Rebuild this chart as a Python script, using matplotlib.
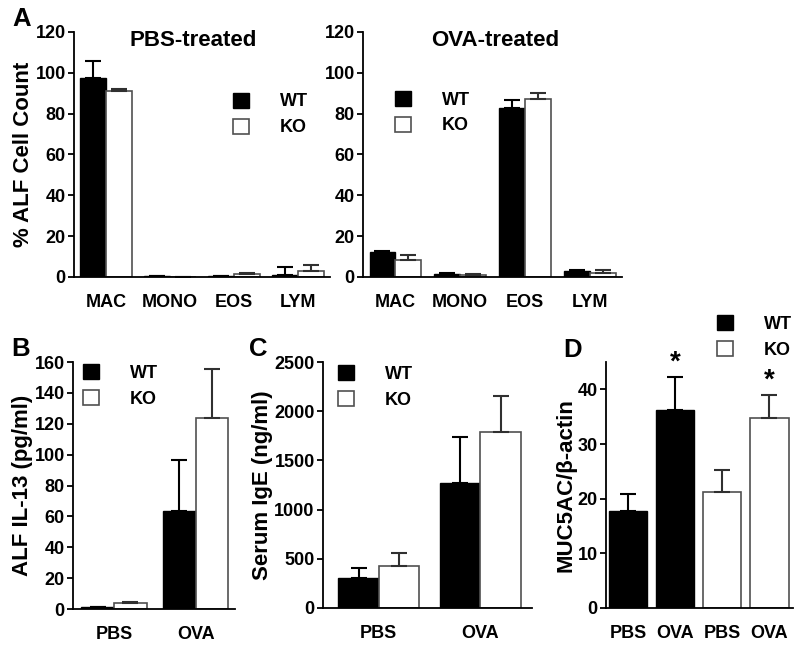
import numpy as np
import matplotlib
matplotlib.use("Agg")
import matplotlib.pyplot as plt
from matplotlib.patches import Patch

plt.rcParams['font.family'] = ['Liberation Sans', 'DejaVu Sans']
plt.rcParams['font.weight'] = 'bold'
plt.rcParams['axes.labelweight'] = 'bold'

# panel A: % ALF cell count
cells = ['MAC', 'MONO', 'EOS', 'LYM']
pbs_wt = [97.4, 0.3, 0.3, 0.8]
pbs_wt_err = [8.5, 0.0, 0.0, 4.1]
pbs_ko = [91.3, 0.0, 1.3, 2.9]
pbs_ko_err = [0.9, 0.0, 0.8, 2.8]
ova_wt = [12.2, 1.6, 82.7, 3.1]
ova_wt_err = [0.4, 0.3, 4.1, 0.2]
ova_ko = [8.3, 1.1, 87.4, 2.1]
ova_ko_err = [2.5, 0.3, 2.8, 1.2]

# panel B: ALF IL-13
treat = ['PBS', 'OVA']
il13_wt = [1.2, 63.6]
il13_wt_err = [0.2, 33.0]
il13_ko = [3.7, 123.7]
il13_ko_err = [1.1, 31.5]

# panel C: serum IgE
ige_wt = [305, 1270]
ige_wt_err = [101, 464]
ige_ko = [423, 1785]
ige_ko_err = [139, 366]

# panel D: MUC5AC / beta-actin
muc_labels = ['PBS', 'OVA', 'PBS', 'OVA']
muc_group = ['WT', 'WT', 'KO', 'KO']
muc_vals = [17.7, 36.2, 21.2, 34.8]
muc_err = [3.2, 6.1, 4.0, 4.2]
muc_sig = [False, True, False, True]

KO_EDGE = '#505050'
TICK_FS = 13
LABEL_FS = 16


def style_axes(ax):
    for s in ['top', 'right']:
        ax.spines[s].set_visible(False)
    for s in ['left', 'bottom']:
        ax.spines[s].set_linewidth(1.3)
    ax.tick_params(axis='y', direction='out', length=4, width=1.3,
                   labelsize=TICK_FS, pad=2)
    ax.tick_params(axis='x', length=0, labelsize=TICK_FS, pad=12)


def bars(ax, x, vals, errs, wt, width):
    if wt:
        ax.bar(x, vals, width, color='black', edgecolor='black', linewidth=1)
        ecol = 'black'
    else:
        ax.bar(x, vals, width, color='white', edgecolor=KO_EDGE, linewidth=1.2)
        ecol = '#303030'
    errs = np.asarray(errs)
    ax.errorbar(x, vals, yerr=[np.zeros_like(errs), errs], fmt='none',
                ecolor=ecol, elinewidth=1.5, capsize=6, capthick=1.5)


def add_legend(ax, x, y):
    handles = [Patch(facecolor='black', edgecolor='black'),
               Patch(facecolor='white', edgecolor=KO_EDGE, linewidth=1.2)]
    ax.legend(handles, ['WT', 'KO'], loc='upper left', bbox_to_anchor=(x, y),
              frameon=False, fontsize=TICK_FS, handlelength=0.9,
              handleheight=0.9, handletextpad=1.7, labelspacing=0.45,
              borderpad=0, borderaxespad=0)


def ylabel(ax, text, x):
    ax.set_ylabel(text, fontsize=LABEL_FS)
    ax.yaxis.set_label_coords(x, 0.5)


fig = plt.figure(figsize=(8, 6.49), dpi=100)

# ---- panel A
xa = np.arange(len(cells))
axl = fig.add_axes([0.0925, 0.5732, 0.32, 0.3775])
axr = fig.add_axes([0.4538, 0.5732, 0.3238, 0.3775])
for ax, wt, wte, ko, koe, title, tx in [
        (axl, pbs_wt, pbs_wt_err, pbs_ko, pbs_ko_err, 'PBS-treated', 0.465),
        (axr, ova_wt, ova_wt_err, ova_ko, ova_ko_err, 'OVA-treated', 0.51)]:
    bars(ax, xa - 0.2, wt, wte, True, 0.4)
    bars(ax, xa + 0.2, ko, koe, False, 0.4)
    ax.set_xlim(-0.5, 3.5)
    ax.set_ylim(0, 120)
    ax.set_yticks(range(0, 121, 20))
    ax.set_xticks(xa)
    ax.set_xticklabels(cells)
    style_axes(ax)
    ax.text(tx, 0.965, title, transform=ax.transAxes, ha='center',
            va='center', fontsize=16, fontweight='bold')
ylabel(axl, '% ALF Cell Count', -0.155)
add_legend(axl, 0.62, 0.752)
add_legend(axr, 0.124, 0.76)

# ---- panel B
xb = np.arange(len(treat))
axb = fig.add_axes([0.0913, 0.0616, 0.2025, 0.3806])
bars(axb, xb - 0.2, il13_wt, il13_wt_err, True, 0.4)
bars(axb, xb + 0.2, il13_ko, il13_ko_err, False, 0.4)
axb.set_xlim(-0.5, 1.48)
axb.set_ylim(0, 160)
axb.set_yticks(range(0, 161, 20))
axb.set_xticks(xb)
axb.set_xticklabels(treat)
style_axes(axb)
ylabel(axb, 'ALF IL-13 (pg/ml)', -0.25)
add_legend(axb, 0.062, 0.992)

# ---- panel C
axc = fig.add_axes([0.4038, 0.0632, 0.2613, 0.379])
bars(axc, xb - 0.2, ige_wt, ige_wt_err, True, 0.4)
bars(axc, xb + 0.2, ige_ko, ige_ko_err, False, 0.4)
axc.set_xlim(-0.55, 1.51)
axc.set_ylim(0, 2500)
axc.set_yticks(range(0, 2501, 500))
axc.set_xticks(xb)
axc.set_xticklabels(treat)
style_axes(axc)
ylabel(axc, 'Serum IgE (ng/ml)', -0.24)
add_legend(axc, 0.072, 0.988)

# ---- panel D
xd = np.arange(len(muc_vals))
axd = fig.add_axes([0.7575, 0.0632, 0.2338, 0.379])
for i in xd:
    bars(axd, [i], [muc_vals[i]], [muc_err[i]], muc_group[i] == 'WT', 0.81)
    if muc_sig[i]:
        axd.text(i, muc_vals[i] + muc_err[i] + 2.6, '*', ha='center',
                 va='center', fontsize=20, fontweight='bold', clip_on=False)
axd.set_xlim(-0.47, 3.5)
axd.set_ylim(0, 45)
axd.set_yticks(range(0, 41, 10))
axd.set_xticks(xd)
axd.set_xticklabels(muc_labels)
style_axes(axd)
ylabel(axd, 'MUC5AC/β-actin', -0.16)
add_legend(axd, 0.594, 1.19)

# panel letters
for lbl, x, y in [('A', 0.015, 0.96), ('B', 0.0138, 0.4515),
                  ('C', 0.311, 0.4515), ('D', 0.704, 0.45)]:
    fig.text(x, y, lbl, fontsize=18.5, fontweight='bold', va='baseline',
             ha='left')

fig.savefig('out.png', dpi=100)
